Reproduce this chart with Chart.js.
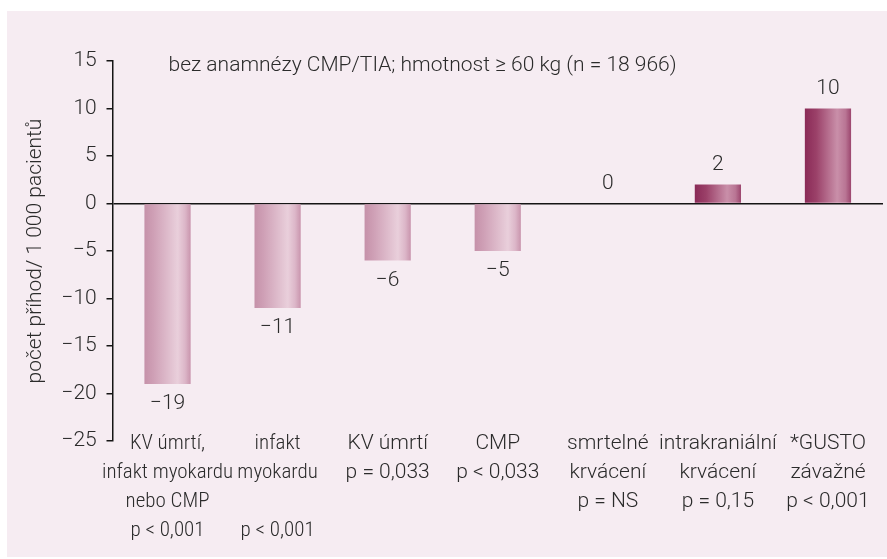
<!DOCTYPE html>
<html>
<head>
<meta charset="utf-8">
<script src="https://cdn.jsdelivr.net/npm/chart.js@4.4.1/dist/chart.umd.min.js"></script>
<style>
  html, body { margin: 0; padding: 0; background: #fff; }
  #panel { position: absolute; left: 7px; top: 11px; width: 880px; height: 546px; background: #f6ecf2; }
</style>
</head>
<body>
<div id="panel"><canvas id="chart" width="880" height="546"></canvas></div>
<script>
// data
const categories = [
  ['KV úmrtí,', 'infakt myokardu', 'nebo CMP', 'p < 0,001'],
  ['infakt', 'myokardu', '', 'p < 0,001'],
  ['KV úmrtí', 'p = 0,033'],
  ['CMP', 'p < 0,033'],
  ['smrtelné', 'krvácení', 'p = NS'],
  ['intrakraniální', 'krvácení', 'p = 0,15'],
  ['*GUSTO', 'závažné', 'p < 0,001'],
];
const values = [-19, -11, -6, -5, 0, 2, 10];
const yTicks = { min: -25, max: 15, step: 5 };
const yTitle = 'počet příhod/ 1 000 pacientů';
const note = 'bez anamnézy CMP/TIA; hmotnost ≥ 60 kg (n = 18 966)';

const FONT = 'Roboto';
const NARROW = '"Liberation Sans Narrow", "Roboto Condensed", Roboto';
const TEXT = '#2b2b2b';
const BAR_FRACTION = 0.42;

// minus sign like in the original
function fmt(v) {
  return String(v).replace('-', '\u2212');
}

// shaded bars: light pink for benefits, dark wine for harms
function barGradient(ctx) {
  const chart = ctx.chart;
  const xs = chart.scales.x;
  const neg = ctx.raw <= 0;
  if (!xs || !xs.width) return neg ? '#d8b0c3' : '#a04a72';
  const cx = xs.getPixelForValue(ctx.dataIndex);
  const w = xs.width / categories.length * BAR_FRACTION;
  const g = chart.ctx.createLinearGradient(cx - w / 2, 0, cx + w / 2, 0);
  if (neg) {
    g.addColorStop(0, '#c591a9');
    g.addColorStop(0.2, '#cfa0b6');
    g.addColorStop(0.72, '#e9cfdb');
    g.addColorStop(0.88, '#dcb6c8');
    g.addColorStop(1, '#c995ad');
  } else {
    g.addColorStop(0, '#8a2a57');
    g.addColorStop(0.25, '#9b4169');
    g.addColorStop(0.7, '#c98fa9');
    g.addColorStop(0.88, '#b97594');
    g.addColorStop(1, '#9c466e');
  }
  return g;
}

const valueLabels = {
  id: 'valueLabels',
  afterDatasetsDraw(chart) {
    const { ctx } = chart;
    const meta = chart.getDatasetMeta(0);
    ctx.save();
    ctx.font = `300 21px ${FONT}`;
    ctx.fillStyle = TEXT;
    ctx.textAlign = 'center';
    ctx.textBaseline = 'middle';
    meta.data.forEach((bar, i) => {
      const v = values[i];
      const y = v < 0 ? bar.y + 20 : bar.y - 20;
      ctx.fillText(fmt(v), bar.x, y);
    });
    ctx.restore();
  }
};

const noteText = {
  id: 'noteText',
  afterDraw(chart) {
    const { ctx, chartArea } = chart;
    const y = chart.scales.y.getPixelForValue(yTicks.max) + 5;
    ctx.save();
    ctx.font = `300 21px ${FONT}`;
    ctx.fillStyle = TEXT;
    ctx.textAlign = 'left';
    ctx.textBaseline = 'middle';
    ctx.fillText(note, chartArea.left + 56, y);
    ctx.restore();
  }
};

new Chart(document.getElementById('chart'), {
  type: 'bar',
  data: {
    labels: categories,
    datasets: [{
      data: values,
      backgroundColor: barGradient,
      borderWidth: 0,
      categoryPercentage: 1,
      barPercentage: BAR_FRACTION,
    }]
  },
  options: {
    responsive: false,
    animation: false,
    layout: { padding: { top: 50, right: 4, left: 0, bottom: 0 } },
    plugins: {
      legend: { display: false },
      tooltip: { enabled: false },
    },
    scales: {
      x: {
        grid: { display: false, drawTicks: false },
        border: { display: false },
        ticks: {
          color: TEXT,
          // the two long labels on the left are set narrower
          font: c => ({
            family: c.index < 2 ? NARROW : FONT,
            size: 21,
            weight: 300,
            lineHeight: '29px',
          }),
          padding: -11.5,
          maxRotation: 0,
          autoSkip: false,
        },
        afterFit(scale) {
          scale.height = 116;
          // labels start just under the axis, let them overlap the plot edge
          scale._computeLabelArea = () => undefined;
        },
      },
      y: {
        min: yTicks.min,
        max: yTicks.max,
        ticks: {
          stepSize: yTicks.step,
          color: TEXT,
          font: { family: FONT, size: 21, weight: 300 },
          padding: 9.8,
          callback: v => fmt(v),
        },
        grid: {
          color: c => (c.tick && c.tick.value === 0 ? '#151515' : 'rgba(0,0,0,0)'),
          lineWidth: 1.5,
          tickColor: '#151515',
          tickLength: 6,
        },
        border: { color: '#151515', width: 1.5 },
        title: {
          display: true,
          text: yTitle,
          color: TEXT,
          font: { family: FONT, size: 21, weight: 300 },
          padding: { top: 16, bottom: 0 },
        },
        afterFit(scale) { scale.width = 105.5; },
      }
    }
  },
  plugins: [valueLabels, noteText]
});
</script>
</body>
</html>
